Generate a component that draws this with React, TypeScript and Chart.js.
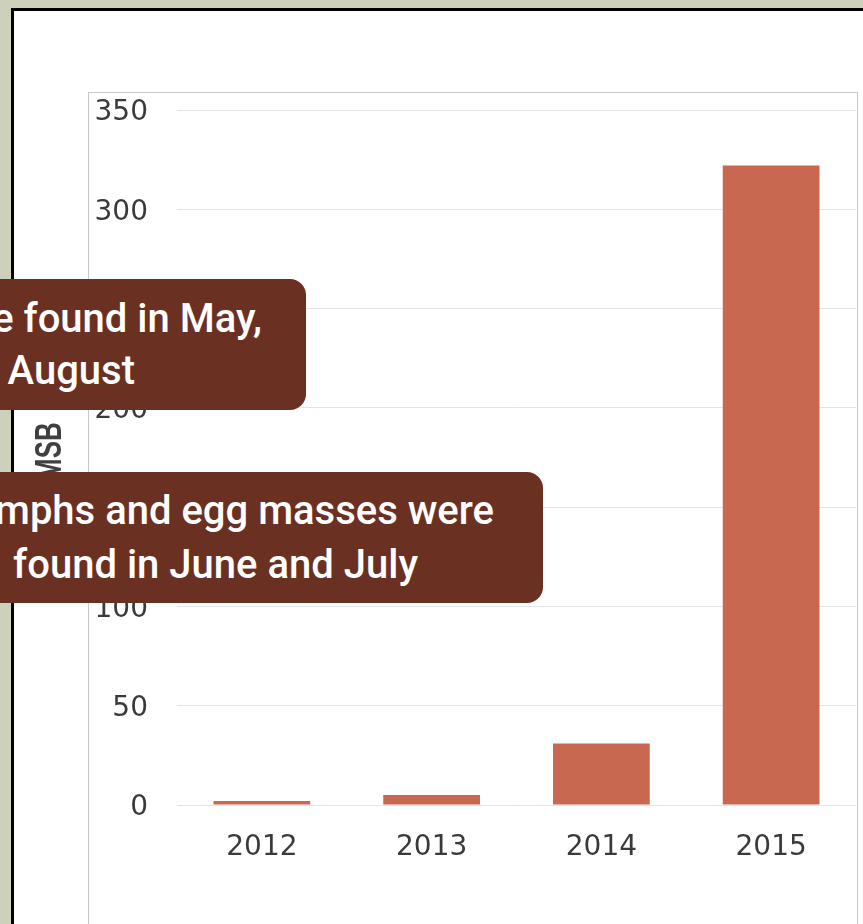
import React, { useEffect, useRef } from "react";
import { Chart, registerables } from "chart.js";

Chart.register(...registerables);

const years = ["2012", "2013", "2014", "2015"];
const counts = [2, 5, 31, 322];
const yTicks = [0, 50, 100, 150, 200, 250, 300, 350];
const yTitle = "BMSB";
const callout1 = ["Adults were found in May,", "July and August"];
const callout2 = ["Nymphs and egg masses were", "found in June and July"];

const calloutFont = "500 40px Roboto, 'Noto Sans', sans-serif";

function Callout(props: {
  top: number;
  right: number;
  lines: string[];
  lineRights: number[];
  lineTops: number[];
}) {
  const { top, right, lines, lineRights, lineTops } = props;
  return (
    <div
      style={{
        position: "absolute",
        left: -300,
        width: right + 300,
        top,
        height: 131,
        background: "#6A3022",
        borderRadius: 16,
        overflow: "hidden",
        zIndex: 5,
      }}
    >
      {lines.map((t, i) => (
        <div
          key={i}
          style={{
            position: "absolute",
            right: lineRights[i],
            top: lineTops[i],
            whiteSpace: "nowrap",
            color: "#ffffff",
            font: calloutFont,
            lineHeight: "40px",
          }}
        >
          {t}
        </div>
      ))}
    </div>
  );
}

// draws the (horizontally condensed) vertical axis title left of the tick labels
const yTitlePlugin = {
  id: "yTitleCondensed",
  afterDraw(chart: any) {
    const { ctx, chartArea } = chart;
    const cy = (chartArea.top + chartArea.bottom) / 2 + 3;
    const size = 36;
    const capH = size * 0.716;
    ctx.save();
    ctx.translate(48.5, cy);
    ctx.rotate(-Math.PI / 2);
    ctx.scale(0.72, 1);
    ctx.font = `bold ${size}px 'Liberation Sans', Arial, sans-serif`;
    ctx.fillStyle = "#404040";
    ctx.textAlign = "center";
    ctx.textBaseline = "alphabetic";
    ctx.fillText(yTitle, 0, capH / 2);
    ctx.restore();
  },
};

export default function App() {
  const ref = useRef<HTMLCanvasElement>(null);

  useEffect(() => {
    const chart = new Chart(ref.current!, {
      type: "bar",
      data: {
        labels: years,
        datasets: [
          {
            data: counts,
            backgroundColor: "#C86850",
            barPercentage: 0.57,
            categoryPercentage: 1,
          },
        ],
      },
      options: {
        animation: false,
        responsive: false,
        maintainAspectRatio: false,
        devicePixelRatio: 1,
        layout: { padding: { left: 30, top: 110, right: 7, bottom: 0 } },
        plugins: { legend: { display: false }, tooltip: { enabled: false } },
        scales: {
          x: {
            grid: { display: false },
            border: { display: false },
            ticks: {
              color: "#3a3a3a",
              font: { family: "'DejaVu Sans', sans-serif", size: 28 },
              padding: 18,
              maxRotation: 0,
            },
            afterFit: (s: any) => {
              s.height = 119;
            },
          },
          y: {
            min: 0,
            max: 350,
            afterBuildTicks: (s: any) => {
              s.ticks = yTicks.map((v) => ({ value: v }));
            },
            grid: { color: "#e4e4e4", drawTicks: false, lineWidth: 1 },
            border: { display: false },
            ticks: {
              color: "#3a3a3a",
              font: { family: "'DejaVu Sans', sans-serif", size: 28 },
              padding: 29,
              labelOffset: 3,
            },
            afterFit: (s: any) => {
              s.width = 147;
            },
          },
        },
      },
      plugins: [yTitlePlugin],
    } as any);
    return () => chart.destroy();
  }, []);

  return (
    <div
      style={{
        position: "fixed",
        left: 0,
        top: 0,
        width: 863,
        height: 924,
        overflow: "hidden",
        background: "#CDD1BB",
      }}
    >
      <div
        style={{
          position: "absolute",
          left: 11,
          top: 8,
          width: 950,
          height: 1000,
          border: "3px solid #000",
          background: "#ffffff",
        }}
      />
      <div
        style={{
          position: "absolute",
          left: 88,
          top: 92,
          width: 768,
          height: 900,
          border: "1px solid #c9c9c9",
          background: "#ffffff",
        }}
      />
      <canvas
        ref={ref}
        width={863}
        height={924}
        style={{ position: "absolute", left: 0, top: 0, width: 863, height: 924, zIndex: 2 }}
      />
      <Callout
        top={279}
        right={306}
        lines={callout1}
        lineRights={[44, 171]}
        lineTops={[20, 72]}
      />
      <Callout
        top={472}
        right={543}
        lines={callout2}
        lineRights={[49, 125]}
        lineTops={[19, 73]}
      />
    </div>
  );
}
